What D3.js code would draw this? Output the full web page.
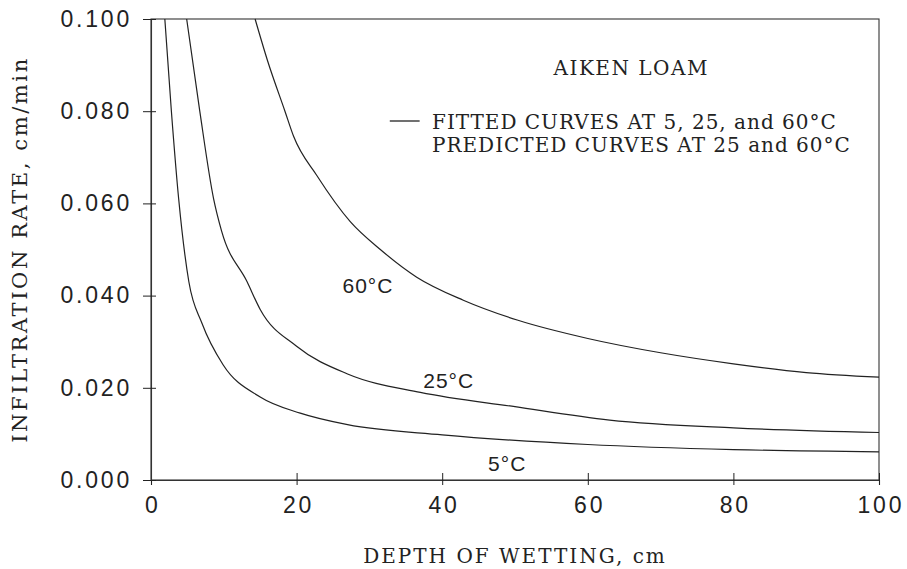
<!DOCTYPE html>
<html lang="en">
<head>
    <meta charset="UTF-8">
    <title>Aiken Loam Infiltration Rate</title>
    <style>
        body { margin: 0; background: #fff; }
        .tick-label { font-family: "Liberation Sans", Arial, sans-serif; font-size: 23px; letter-spacing: 2.8px; fill: #222; }
        .serif { font-family: "DejaVu Serif", serif; fill: #222; }
        .curve-label { font-family: "Liberation Sans", Arial, sans-serif; font-size: 21px; letter-spacing: 1px; fill: #222; }
    </style>
</head>
<body>
    <svg id="chart" width="907" height="569"></svg>
    <script src="https://d3js.org/d3.v7.min.js"></script>
    <script>
        // values (depth in cm, rate in cm/min)
        var xTicks = [0, 20, 40, 60, 80, 100];
        var yTicks = [0, 0.02, 0.04, 0.06, 0.08, 0.1];

        var depth5 = [1.9, 2.8, 3.8, 5.2, 7.0, 9.9, 15, 20.5, 27, 40, 60, 80, 100];
        var rate5 = [0.100, 0.080, 0.061, 0.043, 0.034, 0.025, 0.018, 0.0145, 0.012, 0.0098, 0.0077, 0.0066, 0.0061];

        var depth25 = [4.9, 6.7, 8.6, 9.7, 13.2, 15, 20, 27, 37, 50, 63, 80, 100];
        var rate25 = [0.100, 0.080, 0.061, 0.054, 0.043, 0.037, 0.029, 0.023, 0.019, 0.0159, 0.013, 0.0113, 0.0103];

        var depth60 = [14.3, 16, 18.4, 19.6, 22.8, 27.4, 31.5, 36.5, 42.9, 50.3, 60, 70, 80, 90, 100];
        var rate60 = [0.100, 0.091, 0.080, 0.0745, 0.066, 0.056, 0.050, 0.044, 0.039, 0.0347, 0.0307, 0.0276, 0.0252, 0.0233, 0.0223];

        var curveNames = ["5°C", "25°C", "60°C"];
        var legendLines = ["FITTED CURVES AT 5, 25, and 60°C", "PREDICTED CURVES AT 25 and 60°C"];

        var margin = { top: 19, right: 28, bottom: 89, left: 151 },
            width = 907 - margin.left - margin.right,
            height = 569 - margin.top - margin.bottom;

        var svg = d3.select("#chart")
            .append("g")
            .attr("transform", "translate(" + margin.left + "," + margin.top + ")");

        var x = d3.scaleLinear().domain([0, 100]).range([0, width]);
        var y = d3.scaleLinear().domain([0, 0.1]).range([height, 0]);

        // frame
        svg.append("rect")
            .attr("width", width)
            .attr("height", height)
            .attr("fill", "none")
            .attr("stroke", "#333")
            .attr("stroke-width", 1.1);

        // axes with cross ticks
        var xAxis = svg.append("g")
            .attr("transform", "translate(0," + height + ")")
            .call(d3.axisBottom(x).tickValues(xTicks).tickSize(5).tickPadding(12).tickFormat(d3.format("d")));
        xAxis.selectAll(".tick line").attr("y1", -7).attr("stroke", "#222");
        xAxis.selectAll("text").attr("class", "tick-label").attr("dx", "1.4px").attr("font-size", null).attr("font-family", null);

        var yAxis = svg.append("g")
            .call(d3.axisLeft(y).tickValues(yTicks).tickSize(8).tickPadding(14).tickFormat(d3.format(".3f")));
        yAxis.selectAll(".tick line").attr("x1", 5).attr("stroke", "#222");
        yAxis.selectAll("text").attr("class", "tick-label").attr("dx", "3px").attr("font-size", null).attr("font-family", null);
        svg.selectAll(".domain").attr("stroke", "#333").attr("stroke-width", 1.1);

        // curves
        var series = [
            { name: curveNames[0], depth: depth5, rate: rate5 },
            { name: curveNames[1], depth: depth25, rate: rate25 },
            { name: curveNames[2], depth: depth60, rate: rate60 }
        ];

        var line = d3.line()
            .x(function(d) { return x(d[0]); })
            .y(function(d) { return y(d[1]); })
            .curve(d3.curveMonotoneX);

        svg.selectAll(".curve")
            .data(series)
            .enter().append("path")
            .attr("class", "curve")
            .attr("fill", "none")
            .attr("stroke", "#222")
            .attr("stroke-width", 1.2)
            .attr("d", function(s) { return line(d3.zip(s.depth, s.rate)); });

        // curve labels
        var labelPos = [[46.3, 0.0019], [37.4, 0.0199], [26.3, 0.0405]];
        svg.selectAll(".curve-label")
            .data(series)
            .enter().append("text")
            .attr("class", "curve-label")
            .attr("x", function(s, i) { return x(labelPos[i][0]); })
            .attr("y", function(s, i) { return y(labelPos[i][1]); })
            .text(function(s) { return s.name; });

        // title and legend
        svg.append("text")
            .attr("class", "serif")
            .attr("x", x(55.3))
            .attr("y", 56)
            .attr("font-size", 20)
            .attr("letter-spacing", "1.5px")
            .text("AIKEN LOAM");

        svg.append("line")
            .attr("x1", x(32.8)).attr("x2", x(36.9))
            .attr("y1", 102).attr("y2", 102)
            .attr("stroke", "#222").attr("stroke-width", 1.3);

        svg.selectAll(".legend-text")
            .data(legendLines)
            .enter().append("text")
            .attr("class", "serif legend-text")
            .attr("x", x(38.6))
            .attr("y", function(d, i) { return 110 + i * 23; })
            .attr("font-size", 20)
            .attr("letter-spacing", "1px")
            .text(function(d) { return d; });

        // axis titles
        svg.append("text")
            .attr("class", "serif")
            .attr("x", width / 2)
            .attr("y", height + 83)
            .attr("text-anchor", "middle")
            .attr("font-size", 20)
            .attr("letter-spacing", "2px")
            .text("DEPTH OF WETTING, cm");

        svg.append("text")
            .attr("class", "serif")
            .attr("transform", "rotate(-90)")
            .attr("x", -height / 2)
            .attr("y", -124)
            .attr("text-anchor", "middle")
            .attr("font-size", 21)
            .attr("letter-spacing", "2.6px")
            .text("INFILTRATION RATE, cm/min");
    </script>
</body>
</html>
